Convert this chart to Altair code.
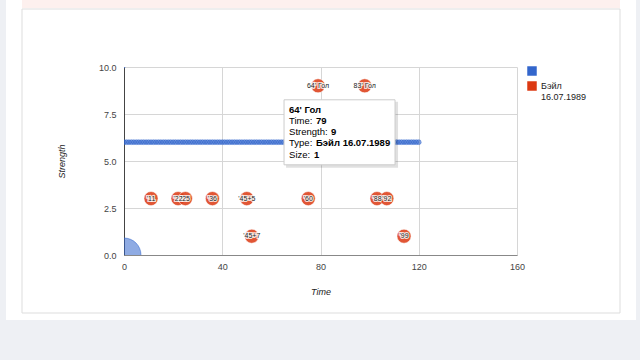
import altair as alt
import pandas as pd

# ---- data ----
blue_name = ""
red_name = "Бэйл 16.07.1989"

blue_times = [0, 1, 2, 3, 4, 5, 6, 7, 8, 9, 10, 11, 12, 13, 14, 15, 16, 17, 18, 19,
              20, 21, 22, 23, 24, 25, 26, 27, 28, 29, 30, 31, 32, 33, 34, 35, 36, 37, 38, 39,
              40, 41, 42, 43, 44, 45, 46, 47, 48, 49, 50, 51, 52, 53, 54, 55, 56, 57, 58, 59,
              60, 61, 62, 63, 64, 65, 66, 67, 68, 69, 70, 71, 72, 73, 74, 75, 76, 77, 78, 79,
              80, 81, 82, 83, 84, 85, 86, 87, 88, 89, 90, 91, 92, 93, 94, 95, 96, 97, 98, 99,
              100, 101, 102, 103, 104, 105, 106, 107, 108, 109, 110, 111, 112, 113, 114, 115,
              116, 117, 118, 119, 120]
blue_strength_value = 6
blue_dot_size = 0.34

blue_extra_times = [0, 0]
blue_extra_strength = [0, 10]
blue_extra_sizes = [2.4, 0.15]

red_times = [11, 22, 25, 36, 50, 52, 75, 79, 98, 103, 107, 114]
red_strength = [3, 3, 3, 3, 3, 1, 3, 9, 9, 3, 3, 1]
red_labels = ["'11", "'22", "'25", "'36", "'45+5", "'45+7", "'60",
              "64' Гол", "83' Гол", "'88", "'92", "'99"]
red_size = 1

x_ticks = [0, 40, 80, 120, 160]
y_ticks = [0, 2.5, 5, 7.5, 10]

tip_time = 79
tip_strength = 9
tip_title = "64' Гол"
tip_rows = [("Time:", "79"), ("Strength:", "9"), ("Type:", "Бэйл 16.07.1989"), ("Size:", "1")]

# ---- tables ----
blue_df = pd.DataFrame({
    "Time": blue_times + blue_extra_times,
    "Strength": [blue_strength_value] * len(blue_times) + blue_extra_strength,
    "Type": [blue_name] * (len(blue_times) + len(blue_extra_times)),
    "Size": [blue_dot_size] * len(blue_times) + blue_extra_sizes,
})
red_df = pd.DataFrame({
    "Time": red_times,
    "Strength": red_strength,
    "Type": [red_name] * len(red_times),
    "Size": [red_size] * len(red_times),
    "Label": red_labels,
})

FONT = "Liberation Sans"
BLUE = "#3366cc"
RED = "#dc3912"

x_enc = alt.X("Time:Q", scale=alt.Scale(domain=[0, 160], nice=False, zero=False),
              axis=alt.Axis(values=x_ticks, title="Time", titleFontStyle="italic",
                            titleFontWeight="normal", titleFontSize=9, titleColor="#222",
                            titlePadding=16, labelPadding=7, labelFontSize=9, labelColor="#444",
                            labelFlush=False, ticks=False, domainColor="#888",
                            gridColor="#d6d6d6"))
y_enc = alt.Y("Strength:Q", scale=alt.Scale(domain=[0, 10], nice=False),
              axis=alt.Axis(values=y_ticks, format=".1f", title="Strength", titleFontStyle="italic",
                            titleFontWeight="normal", titleFontSize=9, titleColor="#222",
                            titlePadding=32, labelPadding=8, labelFontSize=9, labelColor="#444",
                            labelFlush=False, ticks=False, domainColor="#444",
                            gridColor="#d6d6d6"))
color_enc = alt.Color("Type:N", scale=alt.Scale(domain=[blue_name, red_name], range=[BLUE, RED]),
                      legend=alt.Legend(title=None, orient="none", legendX=403, legendY=-1,
                                        symbolType="square", symbolSize=90, symbolStrokeWidth=0,
                                        symbolOpacity=1, labelFontSize=9, labelColor="#222",
                                        labelFont=FONT, rowPadding=5,
                                        labelExpr="split(datum.label, ' ')"))
size_enc = alt.Size("Size:Q", scale=alt.Scale(type="pow", exponent=2, domain=[0, 1], range=[0, 200]),
                    legend=None)

blue_layer = alt.Chart(blue_df).mark_circle(clip=True, fillOpacity=0.55, stroke=BLUE,
                                            strokeWidth=0.6, strokeOpacity=0.9).encode(
    x=x_enc, y=y_enc, color=color_enc, size=size_enc)
red_layer = alt.Chart(red_df).mark_circle(clip=True, opacity=0.85, stroke="#ffffff",
                                          strokeWidth=0.6).encode(
    x="Time:Q", y="Strength:Q", color=color_enc, size=size_enc)
label_halo = alt.Chart(red_df).mark_text(fontSize=7, font=FONT, stroke="#ffffff", strokeWidth=2.2,
                                         strokeOpacity=0.8, color="#ffffff").encode(
    x="Time:Q", y="Strength:Q", text="Label:N")
label_text = alt.Chart(red_df).mark_text(fontSize=7, font=FONT, color="#222").encode(
    x="Time:Q", y="Strength:Q", text="Label:N")

# ---- tooltip (anchored on its data point) ----
tip = pd.DataFrame({"Time": [tip_time], "Strength": [tip_strength]})
tip_base = alt.Chart(tip).encode(x="Time:Q", y="Strength:Q", x2="Time:Q", y2="Strength:Q")
tip_shadow = tip_base.mark_rect(xOffset=-32, x2Offset=80, yOffset=16, y2Offset=82,
                                color="#000000", opacity=0.12)
tip_box = tip_base.mark_rect(xOffset=-34, x2Offset=77, yOffset=14, y2Offset=79,
                             fill="#ffffff", stroke="#cccccc", strokeWidth=1)
tip_layers = [tip_shadow, tip_box]
tip_layers.append(alt.Chart(tip).mark_text(align="left", dx=-29, dy=24, fontSize=9.5, font=FONT,
                                           fontWeight="bold", color="#000").encode(
    x="Time:Q", y="Strength:Q", text=alt.value(tip_title)))
value_dx = [-2, 13, -2, -4]
row_dy = [35, 46, 57, 69]
for (lab, val), vdx, rdy in zip(tip_rows, value_dx, row_dy):
    tip_layers.append(alt.Chart(tip).mark_text(align="left", dx=-29, dy=rdy, fontSize=9.5, font=FONT,
                                               color="#000").encode(
        x="Time:Q", y="Strength:Q", text=alt.value(lab)))
    tip_layers.append(alt.Chart(tip).mark_text(align="left", dx=vdx, dy=rdy, fontSize=9.5, font=FONT,
                                               fontWeight="bold", color="#000").encode(
        x="Time:Q", y="Strength:Q", text=alt.value(val)))

# ---- page frame (decoration around the chart) ----
def frame_rect(x, x2, y, y2, **kw):
    return alt.Chart(tip).mark_rect(clip=False, **kw).encode(
        x=alt.value(x), x2=alt.value(x2), y=alt.value(y), y2=alt.value(y2))

frame = [
    frame_rect(-124, 516, 253, 293, fill="#eef0f4"),
    frame_rect(-124, -118, -67, 253, fill="#eef0f4"),
    frame_rect(512, 516, -67, 253, fill="#eef0f4"),
    frame_rect(-102, 496, -67, -59, fill="#fdf0ee"),
    frame_rect(-102, 496, -58, 246, fill="#ffffff", fillOpacity=0, stroke="#dddddd", strokeWidth=1),
]

chart = alt.layer(*frame, blue_layer, red_layer, label_halo, label_text, *tip_layers).properties(
    width=393, height=188,
    autosize=alt.AutoSizeParams(type="none"),
    padding={"left": 124, "top": 67, "right": 123, "bottom": 105},
    background="#ffffff",
).configure_view(stroke=None).configure_axis(labelFont=FONT, titleFont=FONT)

chart.save("out.html", embed_options={"renderer": "svg", "actions": False})
